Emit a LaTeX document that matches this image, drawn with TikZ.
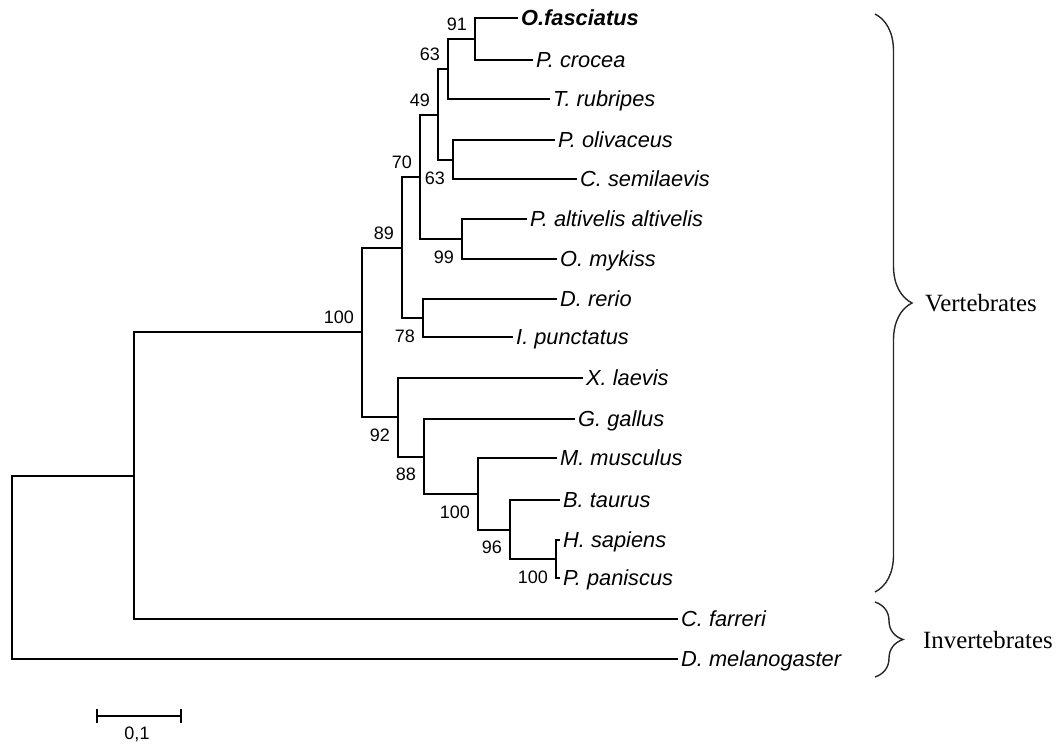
\documentclass[tikz,border=0pt]{standalone}
\usepackage{fontspec}
\setmainfont{Liberation Sans}
\newfontfamily\romanfont{Liberation Serif}
\usetikzlibrary{positioning,arrows.meta,decorations.pathreplacing}

\tikzset{
 branch/.style={black,line width=2pt},
 leaf/.style={anchor=west,inner xsep=3pt,inner ysep=0pt,text height=15.5pt,text depth=0pt,
  font=\fontsize{21.8}{24}\selectfont\itshape},
 boot/.style={anchor=east,inner sep=0pt,text height=12.8pt,text depth=0pt,
  font=\fontsize{18}{20}\selectfont,xshift=-8pt},
 bootup/.style={boot,yshift=14.5pt},
 bootdown/.style={boot,yshift=-18pt},
 groupbrace/.style={black!85,line width=1.4pt,decorate,decoration={brace,amplitude=#1}},
 grouplabel/.style={inner sep=0pt,text depth=0pt,font=\romanfont\fontsize{24.8}{28}\selectfont}
}

\newcommand{\leaf}[3]{%
 \node[leaf] ({#1}) at ({#2}) {#3};%
}
\newcommand{\boot}[3]{%
 \node[#2] (b{#1}) at ({#1}) {#3};%
}

\begin{document}
\begin{tikzpicture}[x=1pt,y=-1pt]
   \useasboundingbox (0,0) rectangle (1061,747);
   % leaves
   \leaf{ofas}{518,18}{\bfseries O.fasciatus}
   \leaf{pcro}{533,60}{P. crocea}
   \leaf{trub}{550,99}{T. rubripes}
   \leaf{poli}{555,140}{P. olivaceus}
   \leaf{csem}{577,179}{C. semilaevis}
   \leaf{palt}{527,219}{P. altivelis altivelis}
   \leaf{omyk}{557,259}{O. mykiss}
   \leaf{drer}{557,299}{D. rerio}
   \leaf{ipun}{513,337}{I. punctatus}
   \leaf{xlae}{583,378}{X. laevis}
   \leaf{ggal}{575,419}{G. gallus}
   \leaf{mmus}{557,458}{M. musculus}
   \leaf{btau}{560,500}{B. taurus}
   \leaf{hsap}{560,540}{H. sapiens}
   \leaf{ppan}{560,578}{P. paniscus}
   \leaf{cfar}{678,619}{C. farreri}
   \leaf{dmel}{678,659}{D. melanogaster}
   % internal nodes
   \coordinate (n91) at (475,39);
   \coordinate (n63a) at (448,69);
   \coordinate (n63b) at (453,160);
   \coordinate (n49) at (438,114.5);
   \coordinate (n99) at (462,239);
   \coordinate (n70) at (420,177);
   \coordinate (n78) at (423,318);
   \coordinate (n89) at (402,247.5);
   \coordinate (n100h) at (556,559);
   \coordinate (n96) at (510,529.5);
   \coordinate (n100m) at (478,494);
   \coordinate (n88) at (424,456.5);
   \coordinate (n92) at (398,417);
   \coordinate (n100v) at (362,332);
   \coordinate (nmeta) at (134,476);
   \coordinate (root) at (12,567.5);
   % branches
   \draw[branch] (n91) |- (ofas.west) (n91) |- (pcro.west);
   \draw[branch] (n63a) |- (n91) (n63a) |- (trub.west);
   \draw[branch] (n63b) |- (poli.west) (n63b) |- (csem.west);
   \draw[branch] (n49) |- (n63a) (n49) |- (n63b);
   \draw[branch] (n99) |- (palt.west) (n99) |- (omyk.west);
   \draw[branch] (n70) |- (n49) (n70) |- (n99);
   \draw[branch] (n78) |- (drer.west) (n78) |- (ipun.west);
   \draw[branch] (n89) |- (n70) (n89) |- (n78);
   \draw[branch] (n100h) |- (hsap.west) (n100h) |- (ppan.west);
   \draw[branch] (n96) |- (btau.west) (n96) |- (n100h);
   \draw[branch] (n100m) |- (mmus.west) (n100m) |- (n96);
   \draw[branch] (n88) |- (ggal.west) (n88) |- (n100m);
   \draw[branch] (n92) |- (xlae.west) (n92) |- (n88);
   \draw[branch] (n100v) |- (n89) (n100v) |- (n92);
   \draw[branch] (nmeta) |- (n100v) (nmeta) |- (cfar.west);
   \draw[branch] (root) |- (nmeta) (root) |- (dmel.west);
   % bootstrap values
   \boot{n91}{bootup}{91}
   \boot{n63a}{bootup}{63}
   \boot{n49}{bootup}{49}
   \boot{n70}{bootup}{70}
   \boot{n89}{bootup}{89}
   \boot{n100v}{bootup}{100}
   \boot{n63b}{bootdown}{63}
   \boot{n99}{bootdown}{99}
   \boot{n78}{bootdown}{78}
   \boot{n92}{bootdown}{92}
   \boot{n88}{bootdown}{88}
   \boot{n100m}{bootdown}{100}
   \boot{n96}{bootdown}{96}
   \boot{n100h}{bootdown}{100}
   % groups
   \coordinate (vtop) at (875,14);
   \coordinate (vbot) at (875,592);
   \coordinate (vtip) at (912,303);
   \coordinate (itop) at (875,602);
   \coordinate (ibot) at (875,677);
   \coordinate (itip) at (903,639.5);
   \draw[groupbrace=37pt] (vtop) -- (vbot);
   \draw[groupbrace=28pt] (itop) -- (ibot);
   \node[grouplabel,right=13pt of vtip] (vert) {Vertebrates};
   \node[grouplabel,right=20pt of itip] (invert) {Invertebrates};
   % scale bar
   \coordinate (sb1) at (96,716);
   \coordinate (sb2) at (182,716);
   \draw[branch,{Bar[width=14pt]}-{Bar[width=14pt]}] (sb1) -- (sb2);
   \node[font=\fontsize{18}{20}\selectfont,inner sep=0pt] (sblabel) at (137,734) {0,1};
\end{tikzpicture}
\end{document}
